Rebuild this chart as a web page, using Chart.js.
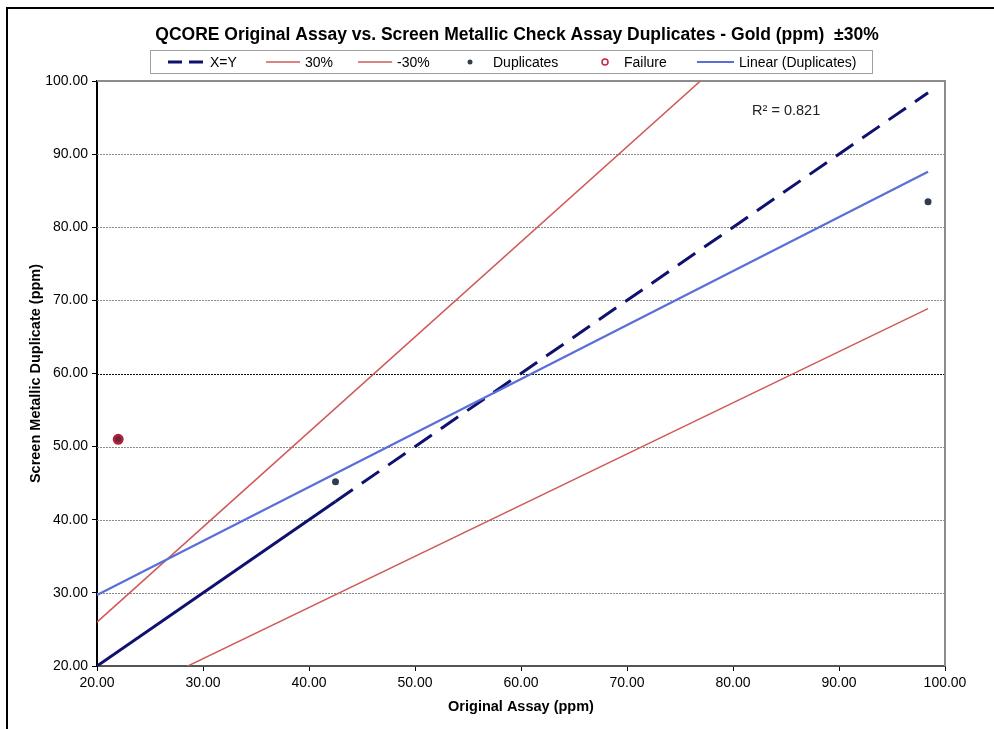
<!DOCTYPE html>
<html><head><meta charset="utf-8">
<script src="https://cdn.jsdelivr.net/npm/chart.js@4/dist/chart.umd.min.js"></script>
<style>
html,body{margin:0;padding:0;background:#fff;overflow:hidden}
#frame{position:absolute;left:6px;top:7px;width:1200px;height:1000px;border:2px solid #000;box-sizing:border-box}
#wrap{position:absolute;left:0;top:0;width:994px;height:729px}
</style></head><body>
<div id="frame"></div>
<div id="wrap"><canvas id="c"></canvas></div>
<script>
const chartTitle = 'QCORE Original Assay vs. Screen Metallic Check Assay Duplicates - Gold (ppm)  \u00B130%';
const xAxisTitle = 'Original Assay (ppm)';
const yAxisTitle = 'Screen Metallic Duplicate (ppm)';
const seriesNames = ['X=Y', '30%', '-30%', 'Duplicates', 'Failure', 'Linear (Duplicates)'];
const xyLineX = [20, 42.5, 98.4];
const xyLineY = [20, 42.5, 98.4];
const plus30X = [20, 98.4];
const plus30Y = [26, 127.92];
const minus30X = [20, 98.4];
const minus30Y = [14, 68.88];
const dupX = [22.0, 42.5, 98.4];
const dupY = [51.0, 45.2, 83.5];
const failX = [22.0];
const failY = [51.0];
const trendX = [20, 98.4];
const trendY = [29.7, 87.6];
const rSquaredLabel = 'R\u00B2 = 0.821';
const rSquaredPos = [81.8, 95.9];
const axisMin = 20, axisMax = 100, axisStep = 10;
const tickLabels = ['20.00','30.00','40.00','50.00','60.00','70.00','80.00','90.00','100.00'];

const FONT = "'Liberation Sans', Arial, sans-serif";
const C_NAVY = '#10106e', C_RED = '#d05a5a', C_BLUE = '#5a6ed8', C_DUP = '#2e3e4c', C_FAIL = '#b01e3a';

const pts = (xs, ys) => xs.map((x, i) => ({x: x, y: ys[i]}));
const tickCb = v => { const i = Math.round((v - axisMin) / axisStep); return tickLabels[i] ?? ''; };

const decor = {
  id: 'decor',
  beforeDatasetsDraw(chart) {
    const {ctx, chartArea: a, scales: {y}} = chart;
    ctx.save();
    for (let v = axisMin + axisStep; v < axisMax; v += axisStep) {
      const py = Math.round(y.getPixelForValue(v)) + 0.5;
      ctx.beginPath();
      ctx.setLineDash([2, 1]);
      ctx.lineWidth = 1;
      ctx.strokeStyle = v === 60 ? '#111' : '#8a8a8a';
      ctx.moveTo(a.left, py); ctx.lineTo(a.right, py);
      ctx.stroke();
    }
    ctx.setLineDash([]);
    ctx.strokeStyle = '#8c8c8c';
    ctx.lineWidth = 2;
    ctx.beginPath();
    ctx.moveTo(a.left, a.top); ctx.lineTo(a.right, a.top); ctx.lineTo(a.right, a.bottom);
    ctx.stroke();
    ctx.restore();
  },
  afterDraw(chart) {
    const {ctx, scales: {x, y}} = chart;
    ctx.save();
    ctx.fillStyle = '#000';
    ctx.font = 'bold 17.5px ' + FONT;
    ctx.textAlign = 'center'; ctx.textBaseline = 'middle';
    ctx.fillText(chartTitle, 517, 35);
    ctx.strokeStyle = '#a0a0a0'; ctx.lineWidth = 1;
    ctx.strokeRect(150.5, 50.5, 722, 23);
    ctx.font = '14px ' + FONT;
    ctx.textAlign = 'left';
    const ly = 62;
    const items = [
      {kind: 'dash', x0: 168, x1: 204, tx: 210},
      {kind: 'line', c: C_RED, w: 1.5, x0: 266, x1: 300, tx: 305},
      {kind: 'line', c: C_RED, w: 1.5, x0: 358, x1: 392, tx: 397},
      {kind: 'dot', cx: 470, tx: 493},
      {kind: 'ring', cx: 605, tx: 624},
      {kind: 'line', c: C_BLUE, w: 2, x0: 697, x1: 734, tx: 739}
    ];
    items.forEach((it, i) => {
      ctx.save();
      if (it.kind === 'dash') {
        ctx.strokeStyle = C_NAVY; ctx.lineWidth = 3;
        ctx.setLineDash([14, 7]);
        ctx.beginPath(); ctx.moveTo(it.x0, ly); ctx.lineTo(it.x1, ly); ctx.stroke();
      } else if (it.kind === 'line') {
        ctx.strokeStyle = it.c; ctx.lineWidth = it.w;
        ctx.beginPath(); ctx.moveTo(it.x0, ly); ctx.lineTo(it.x1, ly); ctx.stroke();
      } else if (it.kind === 'dot') {
        ctx.fillStyle = C_DUP;
        ctx.beginPath(); ctx.arc(it.cx, ly, 2.5, 0, Math.PI * 2); ctx.fill();
      } else {
        ctx.strokeStyle = '#d02040'; ctx.lineWidth = 1.5;
        ctx.beginPath(); ctx.arc(it.cx, ly, 3, 0, Math.PI * 2); ctx.stroke();
      }
      ctx.restore();
      ctx.fillStyle = '#000';
      ctx.fillText(seriesNames[i], it.tx, ly + 1);
    });
    ctx.font = '14.5px ' + FONT;
    ctx.fillStyle = '#222';
    ctx.textAlign = 'left';
    ctx.fillText(rSquaredLabel, x.getPixelForValue(rSquaredPos[0]), y.getPixelForValue(rSquaredPos[1]));
    ctx.restore();
  }
};

const axisCommon = (title, titlePad) => ({
  type: 'linear', min: axisMin, max: axisMax,
  ticks: {stepSize: axisStep, callback: tickCb, color: '#000', font: {family: FONT, size: 14}, padding: 4},
  grid: {drawOnChartArea: false, drawTicks: true, tickLength: 5, color: '#000', tickColor: '#000'},
  border: {display: true, color: '#000', width: 2},
  title: {display: true, text: title, color: '#000', font: {family: FONT, size: 14.5, weight: 'bold'}, padding: titlePad}
});

const xScale = axisCommon(xAxisTitle, {top: 2, bottom: 0});
xScale.border.color = '#555';
xScale.afterFit = s => { s.height = 50; };
const yScale = axisCommon(yAxisTitle, {top: 3, bottom: 3});
yScale.afterFit = s => { s.width = 73; };

new Chart(document.getElementById('c'), {
  type: 'scatter',
  data: {
    datasets: [
      {label: seriesNames[4], data: pts(failX, failY), order: 0, pointRadius: 4.5, pointBorderWidth: 2,
       pointBackgroundColor: 'rgba(150,25,50,0.75)', pointBorderColor: C_FAIL, showLine: false},
      {label: seriesNames[3], data: pts(dupX, dupY), order: 1, pointRadius: 3.5, pointBorderWidth: 0,
       pointBackgroundColor: C_DUP, pointBorderColor: C_DUP, showLine: false},
      {label: seriesNames[5], data: pts(trendX, trendY), order: 2, showLine: true, pointRadius: 0,
       borderColor: C_BLUE, borderWidth: 2.2},
      {label: seriesNames[0], data: pts(xyLineX, xyLineY), order: 3, showLine: true, pointRadius: 0,
       borderColor: C_NAVY, borderWidth: 3,
       segment: {borderDash: c => c.p0DataIndex === 0 ? [] : [21, 11]}},
      {label: seriesNames[1], data: pts(plus30X, plus30Y), order: 4, showLine: true, pointRadius: 0,
       borderColor: C_RED, borderWidth: 1.5},
      {label: seriesNames[2], data: pts(minus30X, minus30Y), order: 5, showLine: true, pointRadius: 0,
       borderColor: C_RED, borderWidth: 1.5}
    ]
  },
  options: {
    responsive: true, maintainAspectRatio: false, animation: false,
    layout: {padding: {left: 24, right: 49, top: 81, bottom: 13}},
    plugins: {legend: {display: false}, title: {display: false}, tooltip: {enabled: false}},
    scales: {x: xScale, y: yScale}
  },
  plugins: [decor]
});
</script>
</body></html>
